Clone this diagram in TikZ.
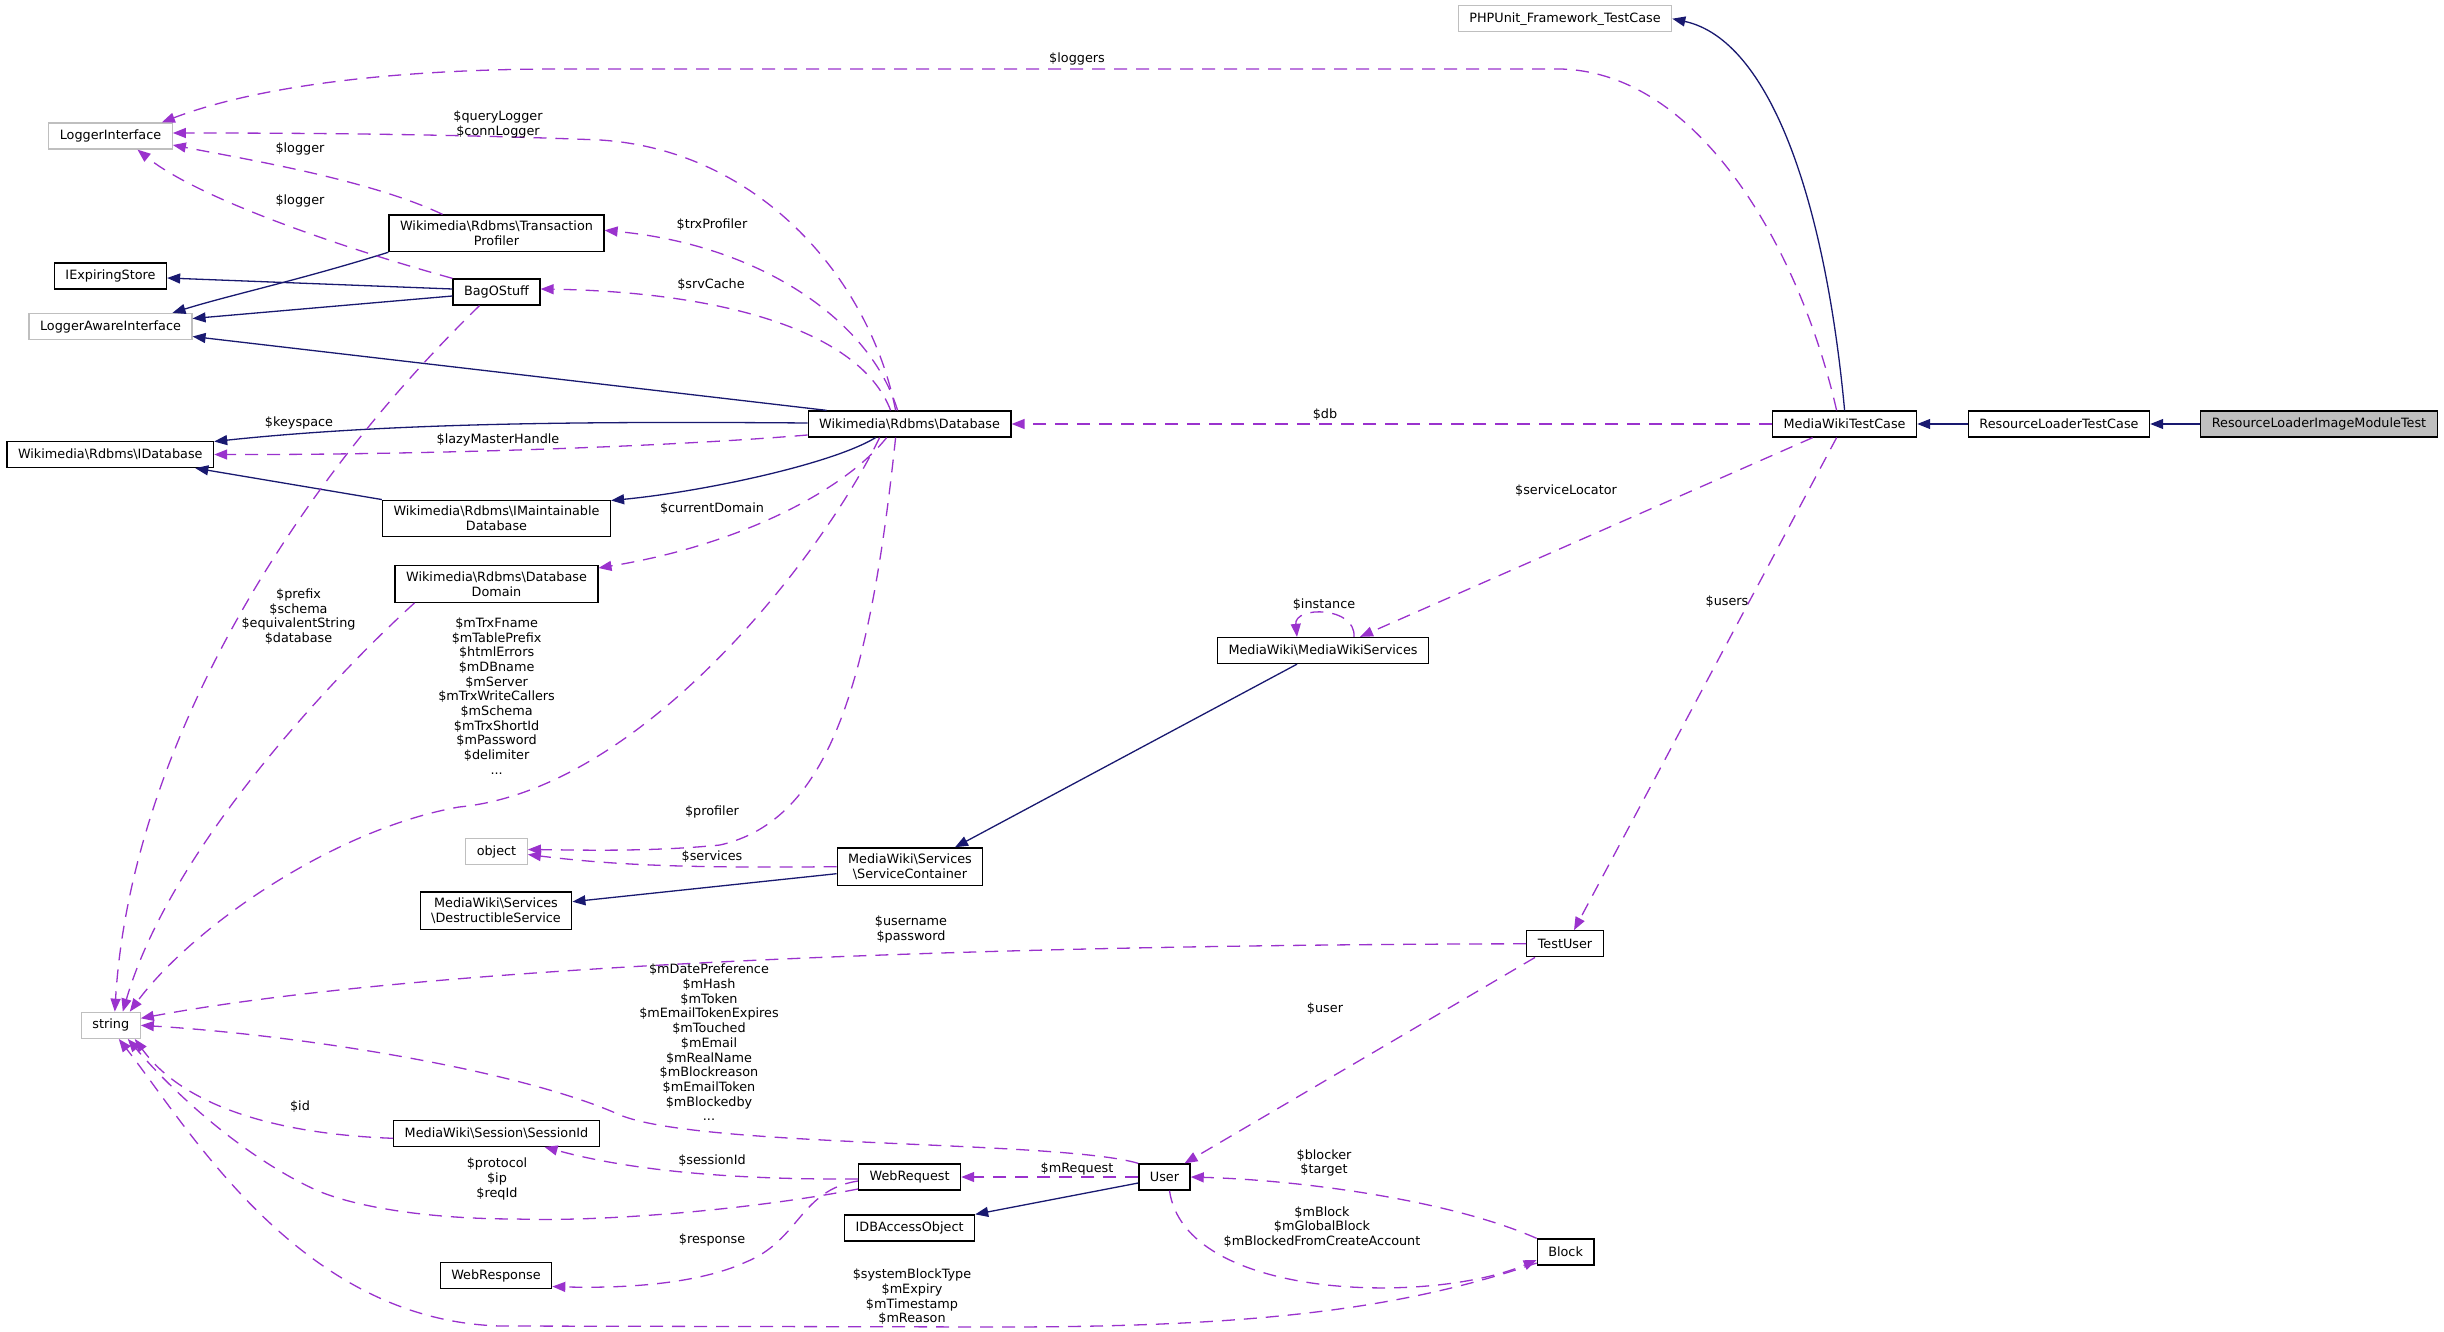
\documentclass[tikz,border=0pt]{standalone}
\usepackage{fontspec}
\setmainfont{DejaVu Sans}
\usepackage{tikz}
\usetikzlibrary{arrows.meta}

\definecolor{inhblue}{HTML}{191970}
\definecolor{usepurple}{HTML}{9A32CD}
\definecolor{extgray}{HTML}{BFBFBF}
\newcommand{\nsp}{\textbackslash}

\begin{document}
\begin{tikzpicture}[x=1pt, y=-1pt,
  every node/.style={font=\fontsize{12.8}{14.7}\selectfont, align=center},
  cls/.style={draw=black, line width=1.3pt, rectangle, inner xsep=11pt, inner ysep=6pt, minimum height=26pt, fill=white},
  ext/.style={cls, draw=extgray},
  root/.style={cls, fill=extgray},
  lbl/.style={inner sep=0pt},
  inheritline/.style={draw=inhblue, line width=1.3pt, -{Triangle[length=13pt,width=10pt]}},
  usageline/.style={draw=usepurple, line width=1.3pt, dash pattern=on 13pt off 9pt, -{Triangle[length=13pt,width=10pt]}}]
  \useasboundingbox (0,0) rectangle (2444,1332);

  % 1. Class boxes
  \node[ext]  (phpunit)  at (1565,18.7)   {PHPUnit\_Framework\_TestCase};
  \node[cls]  (mwtc)     at (1844.6,424)  {MediaWikiTestCase};
  \node[cls]  (rltc)     at (2059,424)    {ResourceLoaderTestCase};
  \node[root] (rlimt)    at (2319,424)    {ResourceLoaderImageModuleTest};
  \node[ext]  (logif)    at (110.5,136)   {LoggerInterface};
  \node[cls]  (trxprof)  at (496.5,233.3) {Wikimedia\nsp Rdbms\nsp Transaction\\Profiler};
  \node[cls]  (iexp)     at (110.5,276)   {IExpiringStore};
  \node[cls]  (bag)      at (496.5,292)   {BagOStuff};
  \node[ext]  (logaware) at (110.5,326.5) {LoggerAwareInterface};
  \node[cls]  (db)       at (909.6,424)   {Wikimedia\nsp Rdbms\nsp Database};
  \node[cls]  (idb)      at (110.3,454.5) {Wikimedia\nsp Rdbms\nsp IDatabase};
  \node[cls]  (imaint)   at (496.5,518.5) {Wikimedia\nsp Rdbms\nsp IMaintainable\\Database};
  \node[cls]  (dbdomain) at (496.5,584)   {Wikimedia\nsp Rdbms\nsp Database\\Domain};
  \node[cls]  (mws)      at (1323,650.5)  {MediaWiki\nsp MediaWikiServices};
  \node[ext]  (object)   at (496.5,851.5) {object};
  \node[cls]  (svc)      at (910,866.7)   {MediaWiki\nsp Services\\\nsp ServiceContainer};
  \node[cls]  (destr)    at (496,910.7)   {MediaWiki\nsp Services\\\nsp DestructibleService};
  \node[cls]  (testuser) at (1565,943.8)  {TestUser};
  \node[ext]  (str)      at (110.8,1025.3) {string};
  \node[cls]  (sessid)   at (496.5,1133.3) {MediaWiki\nsp Session\nsp SessionId};
  \node[cls]  (webreq)   at (909.6,1177)  {WebRequest};
  \node[cls]  (user)     at (1164.5,1177) {User};
  \node[cls]  (idbao)    at (909.6,1228)  {IDBAccessObject};
  \node[cls]  (webresp)  at (496,1275.5)  {WebResponse};
  \node[cls]  (block)    at (1565.6,1252) {Block};

  % 2. Inheritance (solid)
  \draw[inheritline] (mwtc.north) .. controls (1825,200) and (1770,40) .. (phpunit.east);
  \draw[inheritline] (rltc) -- (mwtc);
  \draw[inheritline] (rlimt) -- (rltc);
  \draw[inheritline] ([xshift=-26pt]mws.south) -- ([xshift=45pt]svc.north);
  \draw[inheritline] ([yshift=-7pt]svc.west) -- ([yshift=9pt]destr.east);
  \draw[inheritline] ([xshift=-83pt]db.north) -- ([yshift=-10pt]logaware.east);
  \draw[inheritline] ([yshift=1pt]db.west) .. controls (560,421) and (380,424) .. ([yshift=13pt]idb.east);
  \draw[inheritline] ([xshift=-34pt]db.south) .. controls (830,465) and (700,492) .. ([yshift=18pt]imaint.east);
  \draw[inheritline] (imaint.north west) -- ([xshift=85pt]idb.south);
  \draw[inheritline] (trxprof.south west) .. controls (300,280) and (230,295) .. ([xshift=62pt]logaware.north);
  \draw[inheritline] ([yshift=3pt]bag.west) -- ([yshift=-2pt]iexp.east);
  \draw[inheritline] ([yshift=-4pt]bag.west) -- ([yshift=8pt]logaware.east);
  \draw[inheritline] ([yshift=-6pt]user.west) -- (idbao.north east);

  % 3. Usage (dashed)
  \draw[usageline] (mwtc) -- (db);
  \draw[usageline] ([xshift=-8pt]mwtc.north) .. controls (1800,250) and (1700,72) .. (1560,69)
    -- (560,69) .. controls (400,69) and (260,85) .. ([xshift=-11pt]logif.north east);
  \draw[usageline] ([xshift=-32pt]mwtc.south) -- ([xshift=37pt]mws.north);
  \draw[usageline] ([xshift=-8pt]mwtc.south) -- ([xshift=9pt]testuser.north);
  \draw[usageline] ([xshift=31pt]mws.north) .. controls (1356,606) and (1294,606) .. ([xshift=-26pt]mws.north);
  \draw[usageline] (svc.west) .. controls (700,868) and (620,866) .. ([yshift=-3pt]object.east);
  \draw[usageline] ([yshift=-11pt]db.west) .. controls (650,448) and (400,455) .. (idb.east);
  \draw[usageline] ([xshift=-23pt]db.south) .. controls (845,490) and (740,545) .. ([yshift=16pt]dbdomain.east);
  \draw[usageline] ([xshift=-14pt]db.north) .. controls (870,280) and (760,150) .. (600,140)
    .. controls (450,134) and (300,133) .. ([yshift=3pt]logif.east);
  \draw[usageline] ([xshift=-12pt]db.north) .. controls (870,320) and (760,245) .. ([yshift=3pt]trxprof.east);
  \draw[usageline] ([xshift=-19pt]db.north) .. controls (860,330) and (720,292) .. ([yshift=3pt]bag.east);
  \draw[usageline] ([xshift=-30pt]db.south) .. controls (820,560) and (640,790) .. (459,807)
    .. controls (330,830) and (190,930) .. ([xshift=19pt]str.north);
  \draw[usageline] ([xshift=-14pt]db.south) .. controls (870,680) and (830,820) .. (720,845)
    .. controls (650,852) and (580,850) .. ([yshift=2pt]object.east);
  \draw[usageline] ([xshift=-54pt]trxprof.north) .. controls (370,180) and (250,160) .. ([yshift=-9pt]logif.east);
  \draw[usageline] (bag.north west) .. controls (350,250) and (200,200) .. ([xshift=27pt]logif.south);
  \draw[usageline] ([xshift=-17pt]bag.south) .. controls (280,500) and (130,760) .. ([xshift=4pt]str.north);
  \draw[usageline] ([xshift=20pt]dbdomain.south west) .. controls (330,680) and (170,850) .. ([xshift=12pt]str.north);
  \draw[usageline] (testuser.west) .. controls (900,945) and (400,970) .. ([yshift=7pt]str.east);
  \draw[usageline] ([xshift=-30pt]testuser.south) -- ([xshift=20pt]user.north);
  \draw[usageline] (user.north west) .. controls (1060,1140) and (700,1148) .. (620,1115)
    .. controls (520,1070) and (300,1035) .. (str.east);
  \draw[usageline] (user) -- (webreq);
  \draw[usageline] ([xshift=5pt]user.south) .. controls (1185,1300) and (1430,1305) .. ([yshift=-8pt]block.west);
  \draw[usageline] (block.north west) .. controls (1450,1200) and (1300,1180) .. (user.east);
  \draw[usageline] ([yshift=-11pt]block.west) .. controls (1400,1310) and (1250,1327) .. (1000,1327)
    -- (500,1326) .. controls (300,1320) and (190,1130) .. ([xshift=8pt]str.south);
  \draw[usageline] ([yshift=-2pt]webreq.west) .. controls (700,1180) and (610,1165) .. ([xshift=48pt]sessid.south);
  \draw[usageline] ([yshift=-12pt]webreq.west) .. controls (750,1210) and (600,1222) .. (517,1219)
    .. controls (420,1219) and (350,1205) .. (316,1190) .. controls (250,1160) and (180,1100) .. ([xshift=17pt]str.south);
  \draw[usageline] ([yshift=-4pt]webreq.west) .. controls (800,1190) and (800,1240) .. (746,1262)
    .. controls (690,1288) and (600,1288) .. ([yshift=-11pt]webresp.east);
  \draw[usageline] ([yshift=-5pt]sessid.west) .. controls (300,1135) and (190,1115) .. ([xshift=-6pt]str.south east);

  % 4. Edge labels
  \node[lbl] (l-loggers)   at (1077,59)    {\$loggers};
  \node[lbl] (l-qlogger)   at (498,124.5)  {\$queryLogger\\\$connLogger};
  \node[lbl] (l-tplogger)  at (300,149)    {\$logger};
  \node[lbl] (l-boslogger) at (300,201)    {\$logger};
  \node[lbl] (l-trx)       at (712,225)    {\$trxProfiler};
  \node[lbl] (l-srv)       at (711,285)    {\$srvCache};
  \node[lbl] (l-keyspace)  at (299,422.7)  {\$keyspace};
  \node[lbl] (l-lazy)      at (498,440)    {\$lazyMasterHandle};
  \node[lbl] (l-db)        at (1325,415)   {\$db};
  \node[lbl] (l-domain)    at (712,509)    {\$currentDomain};
  \node[lbl] (l-locator)   at (1566,491)   {\$serviceLocator};
  \node[lbl] (l-users)     at (1727,602)   {\$users};
  \node[lbl] (l-instance)  at (1324,604.7) {\$instance};
  \node[lbl] (l-prefix)    at (298.5,616.5) {\$prefix\\\$schema\\\$equivalentString\\\$database};
  \node[lbl] (l-trxfname)  at (496.6,696)  {\$mTrxFname\\\$mTablePrefix\\\$htmlErrors\\\$mDBname\\\$mServer\\\$mTrxWriteCallers\\\$mSchema\\\$mTrxShortId\\\$mPassword\\\$delimiter\\...};
  \node[lbl] (l-profiler)  at (712,811.7)  {\$profiler};
  \node[lbl] (l-services)  at (712,856.7)  {\$services};
  \node[lbl] (l-username)  at (911,929.7)  {\$username\\\$password};
  \node[lbl] (l-mdate)     at (709,1042.5) {\$mDatePreference\\\$mHash\\\$mToken\\\$mEmailTokenExpires\\\$mTouched\\\$mEmail\\\$mRealName\\\$mBlockreason\\\$mEmailToken\\\$mBlockedby\\...};
  \node[lbl] (l-user)      at (1325,1009)  {\$user};
  \node[lbl] (l-id)        at (300,1107)   {\$id};
  \node[lbl] (l-sessid)    at (712,1160.7) {\$sessionId};
  \node[lbl] (l-blocker)   at (1324,1163)  {\$blocker\\\$target};
  \node[lbl] (l-mrequest)  at (1077,1169)  {\$mRequest};
  \node[lbl] (l-protocol)  at (497,1179)   {\$protocol\\\$ip\\\$reqId};
  \node[lbl] (l-mblock)    at (1322,1227)  {\$mBlock\\\$mGlobalBlock\\\$mBlockedFromCreateAccount};
  \node[lbl] (l-response)  at (712,1240)   {\$response};
  \node[lbl] (l-sysblock)  at (912,1297)   {\$systemBlockType\\\$mExpiry\\\$mTimestamp\\\$mReason};
\end{tikzpicture}
\end{document}
